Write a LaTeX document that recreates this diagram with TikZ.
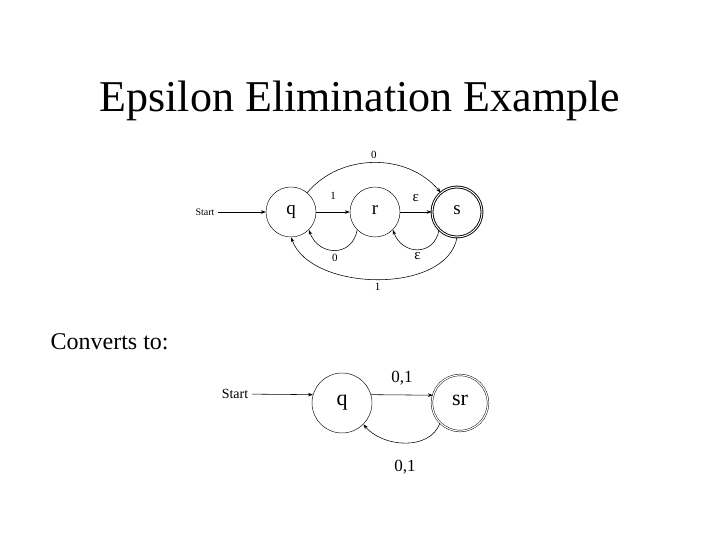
\documentclass[tikz,border=0pt]{standalone}
\usepackage{fontspec}
\setmainfont{Liberation Serif}
\usetikzlibrary{arrows.meta}

\begin{document}
\begin{tikzpicture}[>={Stealth[length=5pt,width=3.6pt]},x=1pt,y=1pt,
    every path/.style={line width=0.55pt},
    state/.style={circle,draw,line width=0.45pt,minimum size=50pt,inner sep=0pt,
      text height=1ex,text depth=0pt,
      font=\fontsize{19}{19}\selectfont},
    accept/.style={double,double distance=1.2pt},
    lbl/.style={font=\fontsize{11}{11}\selectfont,inner sep=1pt},
    eps/.style={font=\fontsize{15}{15}\selectfont,inner sep=1pt},
    lblbig/.style={font=\fontsize{17}{17}\selectfont,inner sep=1pt}]
    \useasboundingbox (0,0) rectangle (720,540);

    % 1) Title and caption
    \node[anchor=base,font=\fontsize{44}{44}\selectfont] (title) at (360,428)
      {Epsilon Elimination Example};
    \node[anchor=base west,font=\fontsize{24}{24}\selectfont] (conv) at (47,190)
      {Converts to:};

    % 2) The automaton with epsilon moves
    \node[font=\fontsize{10}{10}\selectfont] (start1) at (205,328) {Start};
    \node[state] (q1) at (291,328) {q};
    \node[state] (r1) at (375,328) {r};
    \node[state,accept,line width=0.9pt,double distance=1pt] (s1) at (457,328) {s};

    \draw[->] (start1) -- (q1);
    \draw[->] (q1) -- node[lbl,above=11pt] {1} (r1);
    \draw[->] (r1) -- node[eps,above=9pt] {ε} (s1);
    \draw[->] (q1.50) to[out=50,in=130]
      node[lbl,above=3pt] {0} (s1.130);
    \draw[->] (r1.225) to[out=-100,in=-70,looseness=1.5]
      node[lbl,below=3pt] {0} (q1.315);
    \draw[->] (s1.225) to[out=-100,in=-70,looseness=1.5]
      node[eps,below=2pt] {ε} (r1.315);
    \draw[->] (s1.270) to[out=-100,in=-70,looseness=0.9]
      node[lbl,below=3pt] {1} (q1.270);

    % 3) The automaton without epsilon moves
    \node[font=\fontsize{14}{14}\selectfont] (start2) at (235,146) {Start};
    \node[state,minimum size=60pt,font=\fontsize{22}{22}\selectfont] (q2) at (342,137) {q};
    \node[state,accept,minimum size=56pt,font=\fontsize{22}{22}\selectfont] (sr2) at (460,137) {sr};

    \draw[->] (start2) -- (q2.164);
    \draw[->] (q2.16) -- node[lblbig,above=9pt] {0,1} (sr2.164);
    \draw[->] (sr2.225) to[out=-110,in=-50]
      node[lblbig,below=16pt] {0,1} (q2.315);
\end{tikzpicture}
\end{document}
